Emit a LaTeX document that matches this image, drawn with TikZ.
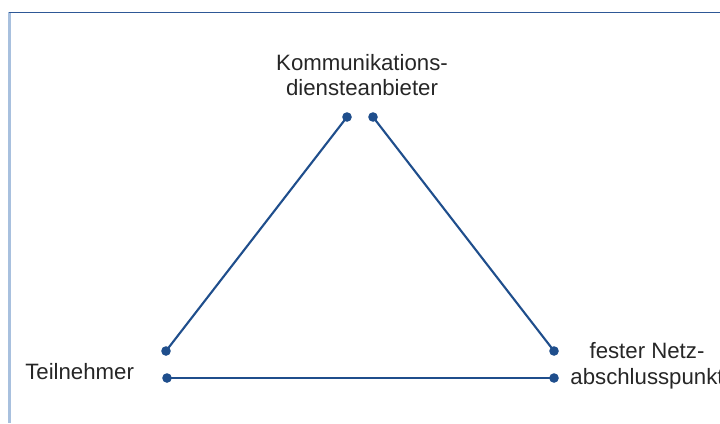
\documentclass[tikz,border=0pt]{standalone}
\usepackage{fontspec}
\setmainfont{Liberation Sans}
\usetikzlibrary{calc}
\definecolor{linie}{RGB}{31,78,140}
\definecolor{rahmen}{RGB}{46,88,150}
\definecolor{rahmenhell}{RGB}{168,192,222}
\definecolor{schrift}{RGB}{38,38,38}
\begin{document}
\begin{tikzpicture}[x=0.025cm, y=-0.025cm,
	punkt/.style={circle, fill=linie, draw=none, inner sep=0pt, minimum size=0.24cm},
	beschriftung/.style={font=\fontsize{15.8}{18.4}\selectfont, text=schrift, align=center, inner sep=0pt},
	verbindung/.style={draw=linie, line width=1.5pt}]

	\useasboundingbox (0,0) rectangle (720,423);

	% Rahmen
	\draw[rahmenhell, line width=1.6pt] (9.5,12) -- (9.5,423);
	\draw[rahmen, line width=1.2pt] (9,12.5) -- (720,12.5);

	% Beschriftungen
	\node[beschriftung] (KD) at (362,75) {Kommunikations-\\diensteanbieter};
	\node[beschriftung, anchor=west] (TN) at (25,372) {Teilnehmer};
	\node[beschriftung] (NA) at (647,366) {fester Netz-\\abschlusspunkt};

	% Punkte
	\node[punkt] (K1) at (347,117) {};
	\node[punkt] (K2) at (373,117) {};
	\node[punkt] (T1) at (166,351) {};
	\node[punkt] (T2) at (167,378) {};
	\node[punkt] (N1) at (554,351) {};
	\node[punkt] (N2) at (554,378) {};

	% Linien
	\draw[verbindung] (T1.center) -- (K1.center);
	\draw[verbindung] (K2.center) -- (N1.center);
	\draw[verbindung] (T2.center) -- (N2.center);

\end{tikzpicture}
\end{document}
